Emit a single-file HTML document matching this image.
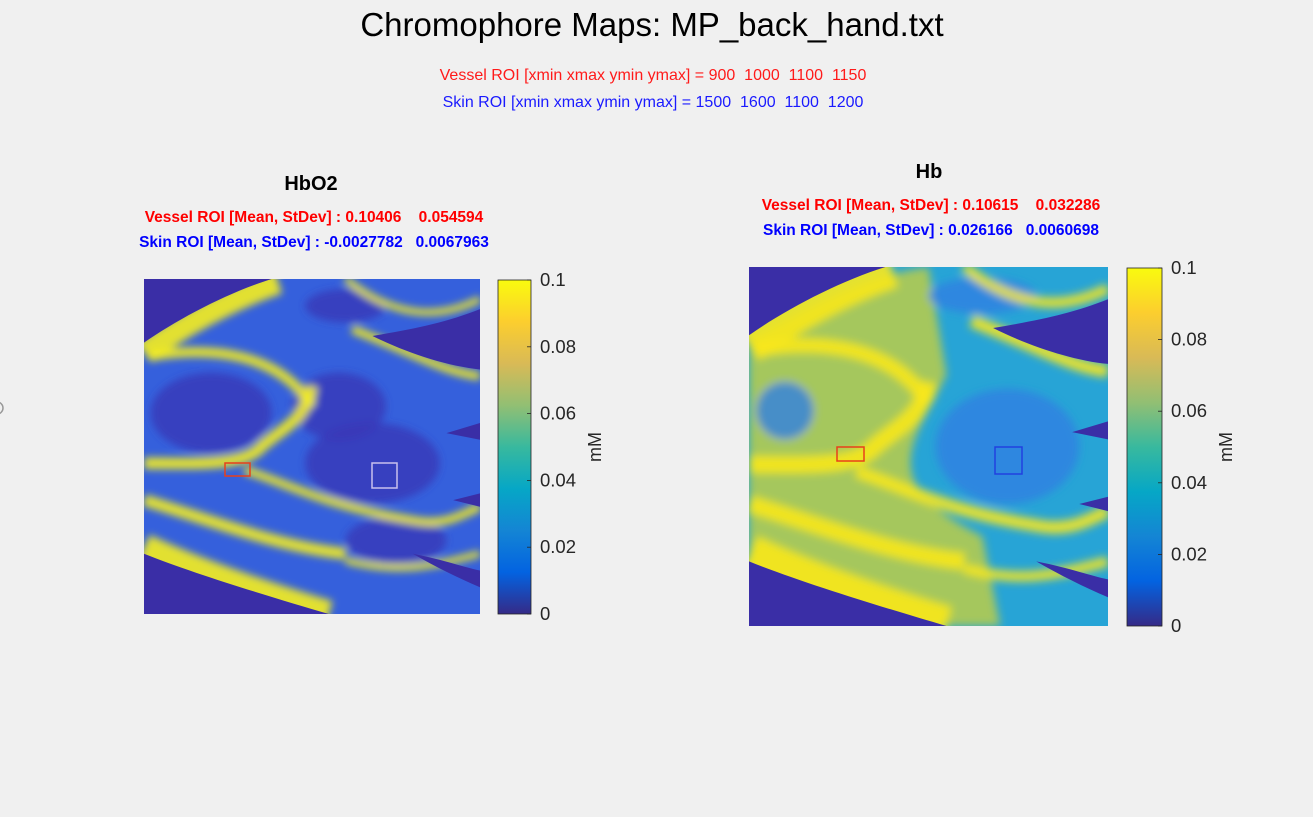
<!DOCTYPE html>
<html><head><meta charset="utf-8"><style>
body{margin:0;background:#f0f0f0;}
svg{display:block;font-family:"Liberation Sans",Arial,sans-serif;}
svg text{white-space:pre;}
</style></head><body>
<svg id="fig" width="1313" height="817" viewBox="0 0 1313 817" xmlns="http://www.w3.org/2000/svg" xml:space="preserve">
<defs>
<linearGradient id="parula" x1="0" y1="1" x2="0" y2="0">
<stop offset="0" stop-color="#352A87"/><stop offset="0.125" stop-color="#0363E1"/><stop offset="0.25" stop-color="#1485D4"/><stop offset="0.375" stop-color="#06A7C6"/><stop offset="0.5" stop-color="#38B99E"/><stop offset="0.625" stop-color="#92BF73"/><stop offset="0.75" stop-color="#D9BA56"/><stop offset="0.875" stop-color="#FCCE2E"/><stop offset="1" stop-color="#F9FB0E"/>
</linearGradient>
<filter id="soft"><feGaussianBlur stdDeviation="0.012"/></filter>
</defs>
<text x="652" y="36" font-size="33" text-anchor="middle" fill="#000">Chromophore Maps: MP_back_hand.txt</text>
<text x="653" y="80" font-size="16" text-anchor="middle" fill="#ff1a1a">Vessel ROI [xmin xmax ymin ymax] = 900  1000  1100  1150</text>
<text x="653" y="107" font-size="16" text-anchor="middle" fill="#1a1aff">Skin ROI [xmin xmax ymin ymax] = 1500  1600  1100  1200</text>
<circle cx="-3" cy="408" r="6" fill="none" stroke="#999" stroke-width="1.5"/>

<g>
<text x="311" y="190" font-size="20" font-weight="bold" text-anchor="middle">HbO2</text>
<text x="314" y="222" font-size="15.5" font-weight="bold" text-anchor="middle" fill="#ff0000">Vessel ROI [Mean, StDev] : 0.10406    0.054594</text>
<text x="314" y="247" font-size="15.5" font-weight="bold" text-anchor="middle" fill="#0000ff">Skin ROI [Mean, StDev] : -0.0027782   0.0067963</text>
<g id="map1"></g>
<rect x="225" y="463" width="25" height="13" fill="none" stroke="#e8401a" stroke-width="1.5"/>
<rect x="372" y="463" width="25" height="25" fill="none" stroke="#c8c0ee" stroke-width="1.5"/>
<g id="cb1"></g>
</g>

<g>
<text x="929" y="178" font-size="20" font-weight="bold" text-anchor="middle">Hb</text>
<text x="931" y="210" font-size="15.5" font-weight="bold" text-anchor="middle" fill="#ff0000">Vessel ROI [Mean, StDev] : 0.10615    0.032286</text>
<text x="931" y="235" font-size="15.5" font-weight="bold" text-anchor="middle" fill="#0000ff">Skin ROI [Mean, StDev] : 0.026166   0.0060698</text>
<g id="map2"></g>
<rect x="837" y="447" width="27" height="14" fill="none" stroke="#e8401a" stroke-width="1.5"/>
<rect x="995" y="447" width="27" height="27" fill="none" stroke="#2040e0" stroke-width="1.5"/>
<g id="cb2"></g>
</g>
</svg>
<script>
const cbTicks = [0, 0.02, 0.04, 0.06, 0.08, 0.1];
const cbTickLabels = ["0", "0.02", "0.04", "0.06", "0.08", "0.1"];
const cbMin = 0, cbMax = 0.1;
const NS = "http://www.w3.org/2000/svg";
function mk(tag, attrs, parent){const e=document.createElementNS(NS,tag);for(const k in attrs)e.setAttribute(k,attrs[k]);parent.appendChild(e);return e;}

function colorbar(id, x, y0, y1, w){
  const g=document.getElementById(id);
  const r=mk('rect',{x:x,y:y0,width:w,height:y1-y0,fill:'url(#parula)',stroke:'#262626','stroke-width':0.8},g);
  
  
  const sy=v=>y1-(v-cbMin)/(cbMax-cbMin)*(y1-y0);
  cbTicks.forEach((v,i)=>{
    const yy=sy(v);
    mk('line',{x1:x+w-4,x2:x+w,y1:yy,y2:yy,stroke:'#262626','stroke-width':0.8},g);
    const t=mk('text',{x:x+w+9,y:yy+6,'font-size':18.5,fill:'#262626'},g);
    t.textContent=cbTickLabels[i];
    
    
  });
  const cy=(y0+y1)/2, lx=x+w+70;
  const l=mk('text',{x:lx,y:cy,'font-size':18,fill:'#262626','text-anchor':'middle',transform:`rotate(-90 ${lx} ${cy})`},g);
  l.textContent='mM';
  
  
}

function map(id, x, y, w, h, pal){
  const g=document.getElementById(id);
  const inner=mk('g',{transform:`translate(${x} ${y}) scale(${w} ${h})`},g);
  const cp='cp'+id;
  const c=mk('clipPath',{id:cp},inner); mk('rect',{x:0,y:0,width:1,height:1},c);
  const gg=mk('g',{'clip-path':`url(#${cp})`},inner);
  mk('rect',{x:0,y:0,width:1,height:1,fill:'#3a2ea6'},gg);
  mk('path',{d:'M0,0.19 C0.1,0.12 0.25,0.04 0.38,0 L1,0 L1,1 L0.55,1 C0.38,0.95 0.15,0.88 0,0.82 Z',fill:pal.hand},gg);
  const fx=mk('g',{filter:'url(#soft)'},gg);
  if(pal.warm) mk('path',{d:'M0,0.2 C0.2,0.1 0.3,0.03 0.5,0 L0.55,0.3 C0.45,0.5 0.35,0.6 0.65,0.75 L0.7,1 L0,1Z',fill:pal.warm,opacity:0.8},fx);
  pal.dark.forEach(e=>mk('ellipse',{cx:e[0],cy:e[1],rx:e[2],ry:e[3],fill:pal.darkc,opacity:0.8},fx));
  const Y=pal.y;
  const bands=[
   ['M0,0.22 C0.1,0.15 0.25,0.06 0.4,0.01',0.07],
   ['M0.02,0.23 C0.2,0.2 0.4,0.22 0.5,0.38',0.03],
   ['M0,0.55 C0.15,0.55 0.3,0.56 0.35,0.5 C0.42,0.44 0.48,0.42 0.5,0.32',0.035],
   ['M0.3,0.57 C0.45,0.62 0.55,0.68 0.8,0.72 C0.9,0.74 0.95,0.7 1,0.68',0.025],
   ['M0,0.8 C0.15,0.87 0.35,0.94 0.55,1.0',0.08],
   ['M0,0.66 C0.2,0.72 0.4,0.8 0.6,0.82',0.035],
   ['M0.62,0.15 C0.8,0.22 0.9,0.28 1,0.29',0.025],
   ['M0.6,0.0 C0.75,0.12 0.88,0.12 1,0.06',0.02],
   ['M0.6,0.84 C0.75,0.88 0.85,0.86 1,0.82',0.02]];
  bands.forEach(b=>mk('path',{d:b[0],fill:'none',stroke:Y,'stroke-width':b[1]*pal.bw,opacity:0.9},fx));
  mk('path',{d:'M0.68,0.17 C0.8,0.15 0.9,0.13 1,0.09 L1,0.27 C0.9,0.26 0.78,0.22 0.68,0.17Z',fill:'#3a2ea6'},gg);
  mk('path',{d:'M0,0.82 C0.15,0.88 0.38,0.95 0.55,1 L0,1Z',fill:'#3a2ea6'},gg);
  mk('path',{d:'M0,0 L0.38,0 C0.25,0.04 0.1,0.12 0,0.19Z',fill:'#3a2ea6'},gg);
  mk('path',{d:'M0.9,0.46 L1,0.43 L1,0.48Z',fill:'#3a2ea6'},gg);
  mk('path',{d:'M0.92,0.66 L1,0.64 L1,0.68Z',fill:'#3a2ea6'},gg);
  mk('path',{d:'M0.8,0.82 C0.9,0.84 0.95,0.86 1,0.87 L1,0.92 C0.93,0.89 0.87,0.86 0.8,0.82Z',fill:'#3a2ea6'},gg);
}
map('map1',144,279,336,335,{hand:'#3560dc',warm:null,darkc:'#3a37b8',bw:1,y:'#f5ee20',
  dark:[[0.2,0.4,0.18,0.12],[0.58,0.38,0.14,0.1],[0.68,0.55,0.2,0.12],[0.6,0.08,0.12,0.05],[0.75,0.78,0.15,0.07]]});
map('map2',749,267,359,359,{hand:'#27a4d6',warm:'#c4d03e',darkc:'#2f80e2',bw:1.4,y:'#f8e81c',
  dark:[[0.72,0.5,0.2,0.16],[0.65,0.08,0.15,0.05],[0.1,0.4,0.08,0.08]]});
colorbar('cb1',498,280,614,33);
colorbar('cb2',1127,268,626,35);
</script>
</body></html>
